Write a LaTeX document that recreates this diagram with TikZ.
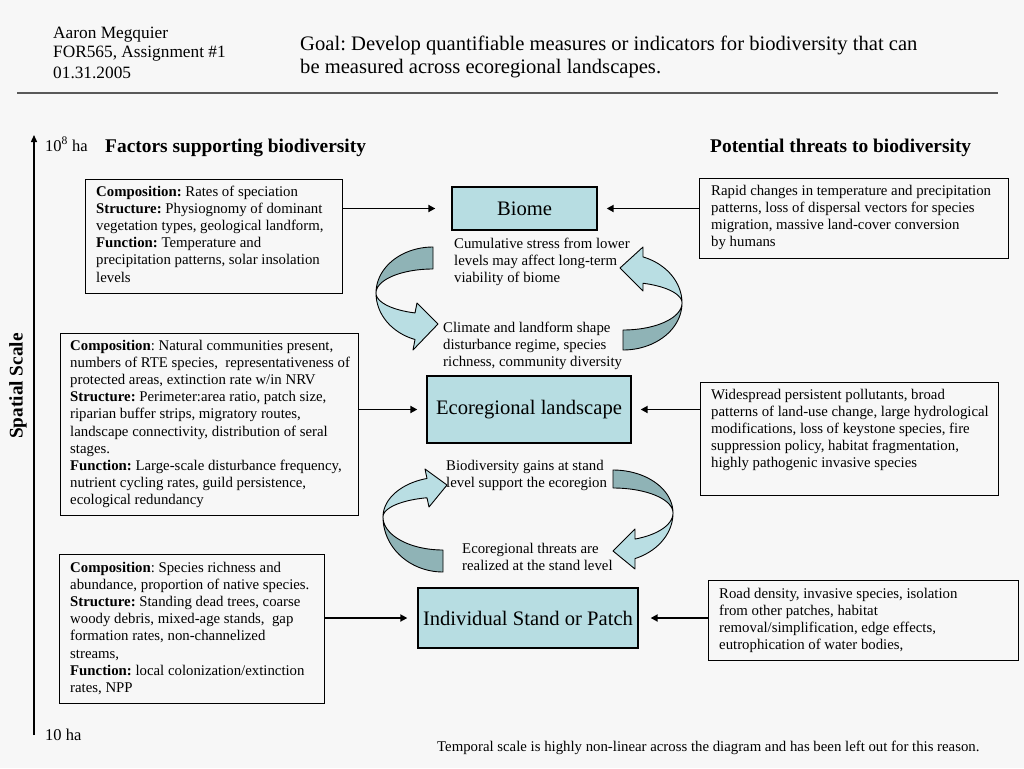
\documentclass[tikz,border=0pt]{standalone}
\usepackage{fontspec}
\setmainfont{Liberation Serif}
\usetikzlibrary{arrows.meta}
\definecolor{bg}{RGB}{247,247,247}
\definecolor{boxblue}{RGB}{183,221,226}
\definecolor{ribdark}{RGB}{143,179,182}
\definecolor{riblight}{RGB}{185,222,227}
\frenchspacing
\newcommand{\ptxt}[1]{\parbox[t]{360pt}{\raggedright #1}}
\newcommand{\wtxt}[1]{\parbox[t]{720pt}{\raggedright #1}}
\begin{document}
\begin{tikzpicture}[x=1pt,y=-1pt,
  frame/.style={draw=black, line width=1.3pt, anchor=north west, inner sep=0pt},
  level/.style={draw=black, line width=1.3pt, fill=boxblue, inner sep=0pt, font=\fontsize{20.6}{24}\selectfont},
  txt/.style={anchor=base west, inner sep=0pt, font=\fontsize{14.8}{17.2}\selectfont},
  head/.style={anchor=base west, inner sep=0pt, font=\fontsize{17.3}{20}\selectfont},
  title/.style={anchor=base west, inner sep=0pt, font=\bfseries\fontsize{19.4}{22}\selectfont},
  conn/.style={line width=1.8pt, -{Triangle[length=7pt,width=7pt]}},
  axisline/.style={line width=1.4pt, -{Triangle[length=7pt,width=6pt]}},
  ribd/.style={fill=ribdark, draw=black, line width=0.9pt, line join=round},
  ribl/.style={fill=riblight, draw=black, line width=0.9pt, line join=round}]
\useasboundingbox (0,0) rectangle (1024,768);
\fill[bg] (0,0) rectangle (1024,768);

% header
\node[head] (author) at (53,38) {\ptxt{Aaron Megquier\\FOR565, Assignment \#1\\01.31.2005}};
\node[anchor=base west, inner sep=0pt, font=\fontsize{20.6}{23}\selectfont] (goal) at (300,50)
  {\wtxt{Goal: Develop quantifiable measures or indicators for biodiversity that can\\be measured across ecoregional landscapes.}};
\coordinate (rulea) at (17,93);
\coordinate (ruleb) at (998,93);
\draw[line width=2pt, gray!70!black] (rulea) -- (ruleb);

% axis
\coordinate (axb) at (34,735);
\coordinate (axt) at (34,135);
\draw[axisline] (axb) -- (axt);
\node[anchor=base west, inner sep=0pt, font=\fontsize{16.5}{18}\selectfont] (top) at (45,151) {10\textsuperscript{8} ha};
\node[anchor=base west, inner sep=0pt, font=\fontsize{16.5}{18}\selectfont] (bot) at (45,740) {10 ha};
\node[rotate=90, inner sep=0pt, font=\bfseries\fontsize{19.3}{22}\selectfont] (spatial) at (18,386) {Spatial Scale};

\node[title] (factors) at (105,152) {Factors supporting biodiversity};
\node[title] (threats) at (710,152) {Potential threats to biodiversity};

% level boxes
\node[level, minimum width=145pt, minimum height=43pt] (biome) at (524.5,208.5) {Biome};
\node[level, minimum width=204pt, minimum height=67pt] (eco) at (529,409.5) {Ecoregional landscape};
\node[level, minimum width=220pt, minimum height=60pt] (stand) at (528,618) {Individual Stand or Patch};

% factor boxes
\node[frame, minimum width=257pt, minimum height=114pt] (lbox1) at (85,179) {};
\node[txt] (ltext1) at (96,196) {\ptxt{\textbf{Composition:} Rates of speciation\\
\textbf{Structure:} Physiognomy of dominant\\
vegetation types, geological landform,\\
\textbf{Function:} Temperature and\\
precipitation patterns, solar insolation\\
levels}};

\node[frame, minimum width=298pt, minimum height=182pt] (lbox2) at (60,333) {};
\node[txt] (ltext2) at (70,350) {\ptxt{\textbf{Composition}: Natural communities present,\\
numbers of RTE species,\ \ representativeness of\\
protected areas, extinction rate w/in NRV\\
\textbf{Structure:} Perimeter:area ratio, patch size,\\
riparian buffer strips, migratory routes,\\
landscape connectivity, distribution of seral\\
stages.\\
\textbf{Function:} Large-scale disturbance frequency,\\
nutrient cycling rates, guild persistence,\\
ecological redundancy}};

\node[frame, minimum width=265pt, minimum height=149pt] (lbox3) at (59,554) {};
\node[txt] (ltext3) at (70,572) {\ptxt{\textbf{Composition}: Species richness and\\
abundance, proportion of native species.\\
\textbf{Structure:} Standing dead trees, coarse\\
woody debris, mixed-age stands,\ \ gap\\
formation rates, non-channelized\\
streams,\\
\textbf{Function:} local colonization/extinction\\
rates, NPP}};

% threat boxes
\node[frame, minimum width=309pt, minimum height=80pt] (rbox1) at (699,178) {};
\node[txt] (rtext1) at (711,195) {\ptxt{Rapid changes in temperature and precipitation\\
patterns, loss of dispersal vectors for species\\
migration, massive land-cover conversion\\
by humans}};

\node[frame, minimum width=298pt, minimum height=113pt] (rbox2) at (700,382) {};
\node[txt] (rtext2) at (711,399) {\ptxt{Widespread persistent pollutants, broad\\
patterns of land-use change, large hydrological\\
modifications, loss of keystone species, fire\\
suppression policy, habitat fragmentation,\\
highly pathogenic invasive species}};

\node[frame, minimum width=310pt, minimum height=80pt] (rbox3) at (708,580) {};
\node[txt] (rtext3) at (719,598) {\ptxt{Road density, invasive species, isolation\\
from other patches, habitat\\
removal/simplification, edge effects,\\
eutrophication of water bodies,}};

% connectors
\draw[conn, shorten >=16pt] (lbox1.east |- biome.west) -- (biome.west);
\draw[conn, shorten >=9pt] (rbox1.west |- biome.east) -- (biome.east);
\draw[conn, shorten >=9pt] (lbox2.east |- eco.west) -- (eco.west);
\draw[conn, shorten >=9pt] (rbox2.west |- eco.east) -- (eco.east);
\draw[conn, shorten >=10pt] (lbox3.east |- stand.west) -- (stand.west);
\draw[conn, shorten >=12pt] (rbox3.west |- stand.east) -- (stand.east);

% ribbon arrows between biome and ecoregion
\draw[ribd] plot[domain=270:180, samples=30, variable=\t] ({433+57*cos(\t)},{293+46*sin(\t)})
  -- plot[domain=180:270, samples=30, variable=\t] ({433+57*cos(\t)},{293+24*sin(\t)}) -- cycle;
\draw[ribl] plot[domain=180:108.4, samples=30, variable=\t] ({433+57*cos(\t)},{293+49*sin(\t)})
  -- (413,350) -- (438,324) -- (417,303)
  -- plot[domain=108.4:180, samples=30, variable=\t] ({433+57*cos(\t)},{293+21*sin(\t)}) -- cycle;

\draw[ribd] plot[domain=90:0, samples=30, variable=\t] ({623+59*cos(\t)},{303+47*sin(\t)})
  -- plot[domain=0:90, samples=30, variable=\t] ({623+59*cos(\t)},{303+27*sin(\t)}) -- cycle;
\draw[ribl] plot[domain=360:289.8, samples=30, variable=\t] ({623+59*cos(\t)},{303+49*sin(\t)})
  -- (643,247) -- (620,268) -- (643,291)
  -- plot[domain=289.8:360, samples=30, variable=\t] ({623+59*cos(\t)},{303+21*sin(\t)}) -- cycle;

% ribbon arrows between ecoregion and stand
\draw[ribd] plot[domain=90:180, samples=30, variable=\t] ({443+60*cos(\t)},{517+55*sin(\t)})
  -- plot[domain=180:90, samples=30, variable=\t] ({443+60*cos(\t)},{517+33*sin(\t)}) -- cycle;
\draw[ribl] plot[domain=180:254.5, samples=30, variable=\t] ({443+60*cos(\t)},{517+40*sin(\t)})
  -- (425,469) -- (447,485) -- (429,507)
  -- plot[domain=254.5:180, samples=30, variable=\t] ({443+60*cos(\t)},{517+20*sin(\t)}) -- cycle;

\draw[ribd] plot[domain=270:360, samples=30, variable=\t] ({613+60*cos(\t)},{513+43*sin(\t)})
  -- plot[domain=360:270, samples=30, variable=\t] ({613+60*cos(\t)},{513+25*sin(\t)}) -- cycle;
\draw[ribl] plot[domain=0:68.5, samples=30, variable=\t] ({613+60*cos(\t)},{513+49*sin(\t)})
  -- (635,569) -- (613,551) -- (635,529)
  -- plot[domain=68.5:0, samples=30, variable=\t] ({613+60*cos(\t)},{513+28*sin(\t)}) -- cycle;

% ribbon captions
\node[txt] (cum) at (454,248) {\ptxt{Cumulative stress from lower\\levels may affect long-term\\viability of biome}};
\node[txt] (clim) at (443,332) {\ptxt{Climate and landform shape\\disturbance regime, species\\richness, community diversity}};
\node[txt] (gain) at (446,470) {\ptxt{Biodiversity gains at stand\\level support the ecoregion}};
\node[txt] (real) at (462,553) {\ptxt{Ecoregional threats are\\realized at the stand level}};

\node[anchor=base west, inner sep=0pt, font=\fontsize{14.8}{17}\selectfont] (temporal) at (437,751)
  {Temporal scale is highly non-linear across the diagram and has been left out for this reason.};
\end{tikzpicture}
\end{document}
